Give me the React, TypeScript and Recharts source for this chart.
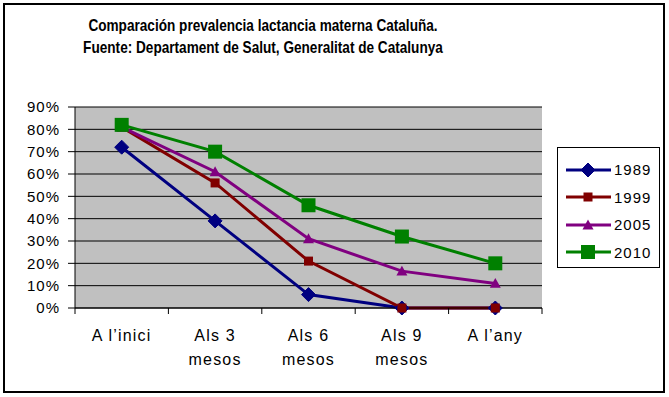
import React from 'react'
import { LineChart, Line, XAxis, YAxis, CartesianGrid, Legend } from 'recharts'

// Prevalencia lactancia materna, Catalunya (valores en %)
const categories = ['A l\u2019inici', 'Als 3 mesos', 'Als 6 mesos', 'Als 9 mesos', 'A l\u2019any']
const categoryLines = [['A l\u2019inici'], ['Als 3', 'mesos'], ['Als 6', 'mesos'], ['Als 9', 'mesos'], ['A l\u2019any']]
const s1989 = [72, 39, 6, 0, 0]
const s1999 = [81, 56, 21, 0, 0]
const s2005 = [81, 61, 31, 16.5, 11]
const s2010 = [82, 70, 46, 32, 20]
const yTicks = [0, 10, 20, 30, 40, 50, 60, 70, 80, 90]

const FONT = '"Liberation Sans", Arial, sans-serif'

const data = categories.map((name, i) => ({
  name,
  pos: i + 0.5,
  y1989: s1989[i],
  y1999: s1999[i],
  y2005: s2005[i],
  y2010: s2010[i],
}))

const xTicks: number[] = []
for (let i = 0; i <= categories.length; i++) {
  xTicks.push(i)
  if (i < categories.length) xTicks.push(i + 0.5)
}

type Shape = 'diamond' | 'square' | 'triangle' | 'bigsquare'

const marker = (shape: Shape, cx: number, cy: number, color: string, key?: string) => {
  if (shape === 'diamond') {
    const r = 7
    return <polygon key={key} points={`${cx},${cy - r} ${cx + r},${cy} ${cx},${cy + r} ${cx - r},${cy}`} fill={color} stroke={color} />
  }
  if (shape === 'square') {
    const r = 4.5
    return <rect key={key} x={cx - r} y={cy - r} width={r * 2} height={r * 2} fill={color} />
  }
  if (shape === 'triangle') {
    const r = 5.5
    return <polygon key={key} points={`${cx},${cy - r} ${cx + r},${cy + r * 0.8} ${cx - r},${cy + r * 0.8}`} fill={color} />
  }
  const r = 7
  return <rect key={key} x={cx - r} y={cy - r} width={r * 2} height={r * 2} fill={color} />
}

const series: { key: string; name: string; color: string; shape: Shape }[] = [
  { key: 'y1989', name: '1989', color: '#000080', shape: 'diamond' },
  { key: 'y1999', name: '1999', color: '#800000', shape: 'square' },
  { key: 'y2005', name: '2005', color: '#800080', shape: 'triangle' },
  { key: 'y2010', name: '2010', color: '#008000', shape: 'bigsquare' },
]

const XTick = (props: any) => {
  const { x, y, payload } = props
  const v = payload.value
  if (Number.isInteger(v)) {
    return (
      <g>
        <line x1={x} x2={x} y1={y} y2={y + 6} stroke="#000" />
      </g>
    )
  }
  const lines = categoryLines[Math.floor(v)] || []
  return (
    <g>
      {lines.map((t, i) => (
        <text key={i} x={x} y={y + 33 + i * 24} textAnchor="middle" fontSize={16} fontFamily={FONT} letterSpacing={1.2} fill="#000">
          {t}
        </text>
      ))}
    </g>
  )
}

const LegendBox = () => (
  <div style={{ border: '1px solid #000', background: '#fff', width: 103, height: 121, boxSizing: 'border-box', paddingTop: 8 }}>
    {series.map((s) => (
      <div key={s.key} style={{ display: 'flex', alignItems: 'center', height: 27.5 }}>
        <svg width={56} height={20} style={{ flex: 'none' }}>
          <line x1={8} x2={53} y1={10} y2={10} stroke={s.color} strokeWidth={3} />
          {marker(s.shape, 30, 10, s.color)}
        </svg>
        <span style={{ fontFamily: FONT, fontSize: 15, letterSpacing: 1, color: '#000' }}>{s.name}</span>
      </div>
    ))}
  </div>
)

export default function App() {
  return (
    <div style={{ position: 'absolute', left: 0, top: 0, width: 669, height: 397, background: '#fff' }}>
      <div style={{ position: 'absolute', left: 3, top: 3, width: 662, height: 390, border: '2px solid #000', boxSizing: 'border-box' }} />
      <div
        style={{
          position: 'absolute',
          left: 0,
          top: 15,
          width: 526,
          textAlign: 'center',
          fontFamily: FONT,
          fontWeight: 'bold',
          fontSize: 17,
          lineHeight: '22px',
          color: '#000',
          whiteSpace: 'nowrap',
          transform: 'scaleX(0.8)',
          transformOrigin: '263px 0',
        }}
      >
        Comparación prevalencia lactancia materna Cataluña.
        <br />
        Fuente: Departament de Salut, Generalitat de Catalunya
      </div>
      <LineChart width={669} height={397} data={data} margin={{ top: 107, right: 127, bottom: 29, left: 0 }} style={{ position: 'absolute', left: 0, top: 0 }}>
        <CartesianGrid vertical={false} fill="#C0C0C0" stroke="#000" strokeOpacity={1} />
        <XAxis
          type="number"
          dataKey="pos"
          domain={[0, categories.length]}
          ticks={xTicks}
          interval={0}
          tickLine={false}
          tickSize={0}
          tickMargin={0}
          axisLine={{ stroke: '#000' }}
          height={60}
          tick={<XTick />}
          allowDataOverflow
        />
        <YAxis
          domain={[0, 90]}
          ticks={yTicks}
          interval={0}
          tickFormatter={(v: number) => `${v}%`}
          width={75}
          tickSize={7}
          tickMargin={8}
          axisLine={{ stroke: '#000' }}
          tickLine={{ stroke: '#000' }}
          tick={{ fill: '#000', fontSize: 15, fontFamily: FONT, letterSpacing: 1 }}
        />
        <Legend
          layout="horizontal"
          verticalAlign="middle"
          align="center"
          wrapperStyle={{ position: 'absolute', left: 557, top: 147, width: 103, height: 121 }}
          content={() => <LegendBox />}
        />
        {series.map((s) => (
          <Line
            key={s.key}
            dataKey={s.key}
            name={s.name}
            stroke={s.color}
            strokeWidth={3}
            isAnimationActive={false}
            dot={(p: any) => marker(s.shape, p.cx, p.cy, s.color, `${s.key}-${p.index}`)}
            activeDot={false}
          />
        ))}
      </LineChart>
    </div>
  )
}
